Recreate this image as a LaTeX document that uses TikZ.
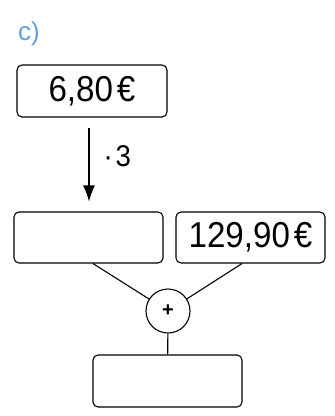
\documentclass[tikz,border=0pt]{standalone}
\usepackage{fontspec}
\setmainfont{Liberation Sans}
\newfontfamily\numfont[FakeStretch=0.92]{Liberation Sans}
\usetikzlibrary{arrows.meta}
\definecolor{labelblue}{RGB}{100,160,220}
\tikzset{
  valbox/.style={draw, line width=1.1pt, rounded corners=5pt, minimum width=149pt, minimum height=51pt, inner sep=0pt, font=\numfont\fontsize{36}{40}\selectfont},
  opcircle/.style={draw, circle, line width=1.1pt, minimum size=44pt, inner sep=0pt, font=\fontsize{20}{22}\selectfont\bfseries},
  conn/.style={line width=1.1pt},
  arrowconn/.style={line width=1.1pt, -{Latex[length=16pt,width=12pt]}}
}
\begin{document}
\begin{tikzpicture}[x=1pt,y=-1pt]
\useasboundingbox (0,0) rectangle (335,416);
\node[text=labelblue, font=\fontsize{26}{28}\selectfont] (lab) at (29,34) {c)};
\node[valbox, minimum width=150pt, minimum height=52pt] (b1) at (92,91) {6,80\kern4pt€};
\node[valbox] (b2) at (88.5,237.5) {};
\node[valbox] (b3) at (250.5,237.5) {129,90\kern4pt€};
\node[opcircle] (plus) at (168,311) {+};
\node[valbox, minimum height=52pt] (b4) at (167.5,381) {};
\coordinate (ax) at (89,0);
\coordinate (lx) at (93,0);
\coordinate (rx) at (242,0);
\draw[arrowconn, shorten <=10pt, shorten >=10pt] (b1.south -| ax) -- (b2.north -| ax);
\node[font=\numfont\fontsize{30}{32}\selectfont, anchor=west] (op) at (100,156) {·\kern3pt 3};
\draw[conn] (b2.south -| lx) -- (plus);
\draw[conn] (b3.south -| rx) -- (plus);
\draw[conn] (plus) -- (b4);
\end{tikzpicture}
\end{document}
